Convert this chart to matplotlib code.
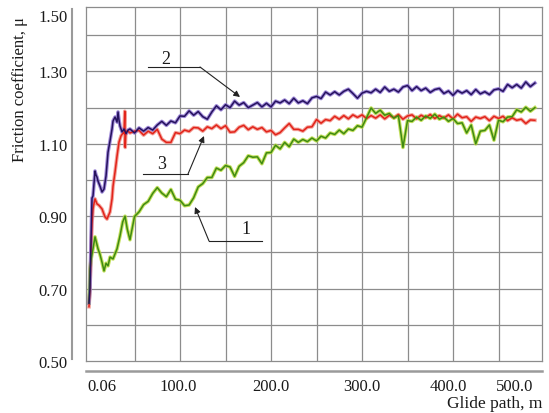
import matplotlib
matplotlib.use('Agg')
import matplotlib.pyplot as plt
from matplotlib.lines import Line2D

plt.rcParams['font.family'] = ['Liberation Serif', 'DejaVu Serif']

# glide path, m (regular part of all three records)
path_main = [45, 50, 55, 60, 65, 70, 75, 80, 85, 90, 95, 100, 105, 110, 115,
             120, 125, 130, 135, 140, 145, 150, 155, 160, 165, 170, 175, 180,
             185, 190, 195, 200, 205, 210, 215, 220, 225, 230, 235, 240, 245,
             250, 255, 260, 265, 270, 275, 280, 285, 290, 295, 300, 305, 310,
             315, 320, 325, 330, 335, 340, 345, 350, 355, 360, 365, 370, 375,
             380, 385, 390, 395, 400, 405, 410, 415, 420, 425, 430, 435, 440,
             445, 450, 455, 460, 465, 470, 475, 480, 485, 490]

# curve 1 (green)
path_1_start = [0, 1.1, 2.2, 4.4, 6.6, 9.9, 12.0, 14.3, 16.5, 18.7, 20.9, 23.1,
                26.4, 30.8, 34.0, 37.0, 39.6, 42.0]
mu_1_start = [0.66, 0.754, 0.78, 0.81, 0.843, 0.81, 0.795, 0.773, 0.749, 0.77,
              0.763, 0.787, 0.782, 0.81, 0.845, 0.884, 0.90, 0.865]
mu_1 = [0.835, 0.899, 0.912, 0.932, 0.941, 0.963, 0.979, 0.964, 0.954, 0.974,
        0.947, 0.944, 0.929, 0.931, 0.951, 0.981, 0.990, 1.007, 1.007, 1.033,
        1.027, 1.040, 1.036, 1.010, 1.038, 1.048, 1.067, 1.063, 1.064, 1.045,
        1.075, 1.076, 1.096, 1.086, 1.104, 1.092, 1.113, 1.104, 1.112, 1.106,
        1.116, 1.108, 1.121, 1.116, 1.130, 1.126, 1.138, 1.128, 1.141, 1.137,
        1.150, 1.146, 1.172, 1.199, 1.184, 1.193, 1.179, 1.184, 1.171, 1.178,
        1.090, 1.164, 1.162, 1.174, 1.165, 1.177, 1.170, 1.182, 1.168, 1.174,
        1.162, 1.170, 1.156, 1.158, 1.130, 1.152, 1.100, 1.135, 1.137, 1.152,
        1.110, 1.165, 1.161, 1.174, 1.175, 1.194, 1.188, 1.201, 1.190, 1.200]

# curve 2 (purple)
path_2_start = [0, 1.1, 2.2, 3.3, 4.4, 5.5, 6.6, 7.7, 8.8, 9.9, 12.1, 14.3,
                16.5, 18.7, 20.9, 23.1, 25.3, 26.4, 28.6, 30.8, 31.9, 33.0,
                34.1, 36.3, 38.5, 40.7, 42.9]
mu_2_start = [0.66, 0.70, 0.83, 0.95, 0.956, 0.99, 1.025, 1.014, 1.008, 0.997,
              0.983, 0.967, 0.975, 1.011, 1.077, 1.108, 1.141, 1.163, 1.174,
              1.16, 1.188, 1.165, 1.149, 1.133, 1.141, 1.128, 1.138]
mu_2 = [1.141, 1.130, 1.144, 1.135, 1.145, 1.138, 1.152, 1.162, 1.151, 1.163,
        1.158, 1.177, 1.176, 1.191, 1.179, 1.189, 1.175, 1.168, 1.188, 1.205,
        1.194, 1.208, 1.200, 1.218, 1.207, 1.214, 1.200, 1.207, 1.214, 1.202,
        1.212, 1.202, 1.218, 1.213, 1.221, 1.211, 1.226, 1.213, 1.219, 1.211,
        1.227, 1.231, 1.225, 1.243, 1.235, 1.244, 1.235, 1.245, 1.251, 1.239,
        1.226, 1.240, 1.245, 1.241, 1.251, 1.242, 1.257, 1.245, 1.251, 1.243,
        1.257, 1.261, 1.247, 1.258, 1.247, 1.254, 1.242, 1.250, 1.253, 1.239,
        1.246, 1.234, 1.247, 1.240, 1.247, 1.236, 1.250, 1.238, 1.244, 1.236,
        1.249, 1.252, 1.245, 1.264, 1.255, 1.264, 1.254, 1.271, 1.258, 1.268]

# curve 3 (red)
path_3_start = [0, 1.1, 2.2, 3.3, 4.4, 5.5, 6.6, 8.8, 11.0, 14.3, 17.6, 19.8,
                23.1, 25.3, 26.4, 28.6, 30.8, 33.0, 35.2, 37.4, 38.5, 39.3,
                39.8, 40.5, 42.9]
mu_3_start = [0.65, 0.70, 0.80, 0.88, 0.92, 0.935, 0.948, 0.934, 0.93, 0.92,
              0.898, 0.892, 0.912, 0.948, 0.983, 1.022, 1.066, 1.105, 1.122,
              1.13, 1.128, 1.19, 1.09, 1.135, 1.135]
mu_3 = [1.130, 1.135, 1.137, 1.124, 1.135, 1.128, 1.140, 1.113, 1.104, 1.104,
        1.131, 1.128, 1.138, 1.134, 1.145, 1.144, 1.135, 1.147, 1.142, 1.152,
        1.142, 1.150, 1.132, 1.133, 1.146, 1.151, 1.139, 1.147, 1.140, 1.145,
        1.133, 1.137, 1.125, 1.131, 1.144, 1.156, 1.140, 1.140, 1.135, 1.146,
        1.147, 1.167, 1.157, 1.167, 1.164, 1.176, 1.168, 1.178, 1.169, 1.180,
        1.173, 1.180, 1.170, 1.178, 1.171, 1.180, 1.169, 1.179, 1.172, 1.181,
        1.168, 1.177, 1.180, 1.169, 1.179, 1.172, 1.181, 1.170, 1.178, 1.171,
        1.180, 1.169, 1.182, 1.172, 1.175, 1.162, 1.174, 1.170, 1.175, 1.164,
        1.176, 1.170, 1.176, 1.164, 1.172, 1.165, 1.168, 1.156, 1.166, 1.165]

grid_x = [50, 100, 150, 200, 250, 300, 350, 400, 450]
grid_y = [0.6, 0.7, 0.8, 0.9, 1.0, 1.1, 1.2, 1.3, 1.4]
xtick_pos = [14.3, 98, 200, 300, 394.5, 468]
xtick_labels = ['0.06', '100.0', '200.0', '300.0', '400.0', '500.0']
ytick_pos = [0.5, 0.7, 0.9, 1.1, 1.3, 1.456]
ytick_labels = ['0.50', '0.70', '0.90', '1.10', '1.30', '1.50']

W, H = 549, 414
fig = plt.figure(figsize=(W / 100, H / 100), dpi=100)
ax = fig.add_axes([86 / W, 1 - 362 / H, (542 - 86) / W, (362 - 8) / H])
ax.set_xlim(-3.3, 497.8)
ax.set_ylim(0.5, 1.478)

grid_col = '#8c8c8c'
for s in ax.spines.values():
    s.set_color(grid_col)
    s.set_linewidth(0.9)
for gx in grid_x:
    ax.axvline(gx, color=grid_col, lw=0.9, zorder=1)
for gy in grid_y:
    ax.axhline(gy, color=grid_col, lw=0.9, zorder=1)

curves = [
    (path_3_start + path_main, mu_3_start + mu_3, '#f08a80', '#e2231a'),
    (path_1_start + path_main, mu_1_start + mu_1, '#b5d936', '#3f8a12'),
    (path_2_start + path_main, mu_2_start + mu_2, '#8a6fd0', '#26125e'),
]
for xs, ys, halo, core in curves:
    ax.plot(xs, ys, color=halo, lw=2.6, alpha=0.8, zorder=2)
    ax.plot(xs, ys, color=core, lw=1.1, zorder=3)

ax.set_xticks(xtick_pos)
ax.set_xticklabels(xtick_labels)
ax.set_yticks(ytick_pos)
ax.set_yticklabels(ytick_labels)
ax.tick_params(axis='both', length=0, labelsize=12, colors='#1a1a1a')
ax.tick_params(axis='y', pad=13.5)
ax.tick_params(axis='x', pad=12)

# separate axis lines outside the plot box
fig.add_artist(Line2D([72 / W, 72 / W], [1 - 10 / H, 1 - 360 / H],
                      color='#9a9a9a', lw=1.5))
fig.add_artist(Line2D([86 / W, 542 / W], [1 - 372 / H, 1 - 372 / H],
                      color='#9a9a9a', lw=1.8))

fig.text(20 / W, 1 - 90 / H, 'Friction coefficient, \u03bc', rotation=90,
         ha='center', va='center', fontsize=12, color='#1a1a1a')
fig.text(542 / W, 1 - 404 / H, 'Glide path, m', ha='right', va='center',
         fontsize=12.5, color='#1a1a1a')


def fp(px, py):
    return (px, H - py)


# curve labels with leader lines
labels = [('2', (166, 60), (148, 68), (200, 68), (240, 98)),
          ('3', (162, 165), (143, 175), (188, 175), (204, 137)),
          ('1', (246, 230), (262, 242), (209, 242), (195, 208))]
for txt, tpos, a, b, head in labels:
    fig.add_artist(Line2D([a[0] / W, b[0] / W], [1 - a[1] / H, 1 - b[1] / H],
                          color='#222222', lw=0.8))
    ax.annotate('', xy=fp(*head), xycoords='figure pixels',
                xytext=fp(*b), textcoords='figure pixels',
                arrowprops=dict(arrowstyle='-|>', color='#222222', lw=0.8,
                                mutation_scale=9, shrinkA=0, shrinkB=0))
    fig.text(tpos[0] / W, 1 - tpos[1] / H, txt, ha='center', va='center',
             fontsize=13, color='#1a1a1a')

fig.savefig('out.png', dpi=100)
